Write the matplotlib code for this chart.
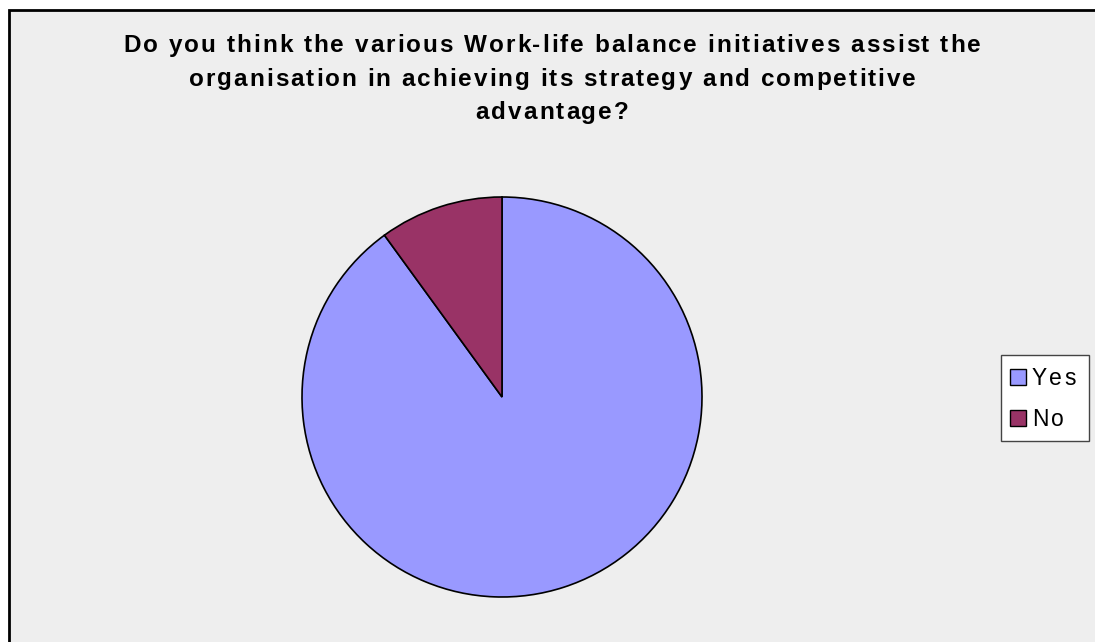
import numpy as np
import matplotlib.pyplot as plt
from matplotlib.patches import Rectangle
from matplotlib.font_manager import FontProperties, findfont
from matplotlib.ft2font import FT2Font

# Data
labels = ['Yes', 'No']
shares = [90, 10]
colours = ['#9999FF', '#993366']

title_lines = ['Do you think the various Work-life balance initiatives assist the',
               'organisation in achieving its strategy and competitive',
               'advantage?']

W, H = 1095, 642
DPI = 100


def advances(s, size, weight):
    # glyph advances in pixels, so the text can be spread out like the original
    prop = FontProperties(family='Liberation Sans', weight=weight)
    font = FT2Font(findfont(prop))
    font.set_size(size, DPI)
    return [font.load_char(ord(ch)).linearHoriAdvance / 65536 for ch in s]


def spaced_text(fig, x, y, s, size, track, weight='normal', ha='center'):
    # x, y in pixels from top-left; y is the baseline
    adv = advances(s, size, weight)
    total = sum(adv) + track * (len(s) - 1)
    x0 = x - total / 2 if ha == 'center' else x
    for ch, a in zip(s, adv):
        if ch != ' ':
            fig.text(x0 / W, 1 - y / H, ch, ha='left', va='baseline', zorder=10,
                     family='Liberation Sans', weight=weight, size=size)
        x0 += a + track


fig = plt.figure(figsize=(W / DPI, H / DPI), dpi=DPI)
fig.patch.set_facecolor('white')

# chart area, its border visible only on the top and left
bg = Rectangle((8.5 / W, -0.1), 1.2, (H - 9.5) / H + 0.1, transform=fig.transFigure,
               facecolor='#EEEEEE', edgecolor='black', linewidth=2, zorder=-10)
fig.patches.append(bg)

# pie: centre (502, 397), radius 200 px
ax = fig.add_axes([302 / W, (H - 597) / H, 400 / W, 400 / H])
ax.pie(shares, colors=colours, startangle=90, counterclock=False, radius=1,
       wedgeprops=dict(edgecolor='black', linewidth=1.2))
ax.set_xlim(-1, 1)
ax.set_ylim(-1, 1)
ax.axis('off')

# title with wide letter spacing
tsize = 17.5
natural = sum(advances(title_lines[0], tsize, 'bold'))
track = (857 - natural) / (len(title_lines[0]) - 1)
for i, line in enumerate(title_lines):
    spaced_text(fig, 552, 52 + 33.5 * i, line, tsize, track, weight='bold')

# legend drawn by hand so its text can be spaced too
fig.patches.append(Rectangle((1000.5 / W, 1 - 441 / H), 88 / W, 86 / H,
                             transform=fig.transFigure, facecolor='white',
                             edgecolor='#444444', linewidth=1, zorder=5))
for i, (lab, col) in enumerate(zip(labels, colours)):
    yc = 377 + 41 * i
    fig.patches.append(Rectangle((1010 / W, 1 - (yc + 8) / H), 16 / W, 16 / H,
                                 transform=fig.transFigure, facecolor=col,
                                 edgecolor='black', linewidth=1, zorder=6))
    spaced_text(fig, 1032, yc + 8, lab, 16.5, 2, ha='left')

plt.savefig('out.png', dpi=DPI)
